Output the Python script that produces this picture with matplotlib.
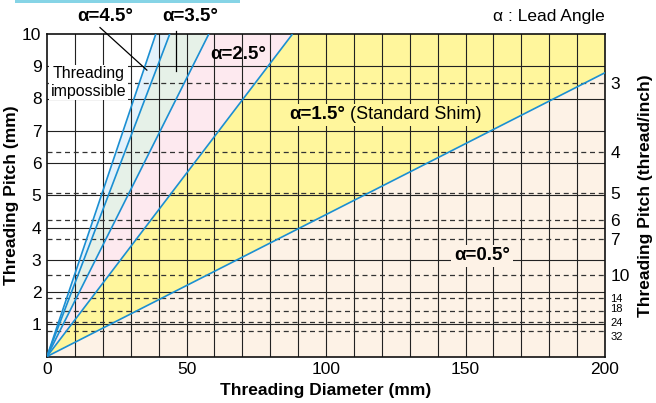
import numpy as np
import matplotlib
matplotlib.use("Agg")
from matplotlib import pyplot as plt
from matplotlib.patches import Rectangle
import matplotlib.transforms as mtransforms

plt.rcParams['font.family'] = ['Liberation Sans', 'DejaVu Sans']

# boundary lines: end point of each line drawn from the origin (diameter mm, pitch mm)
line_d = [39, 44, 58, 88, 200]
line_p = [10, 10, 10, 10, 8.8]
# region colours, from top-left (threading impossible) to bottom-right
region_colors = ['white', '#e4f2fb', '#e6f1e8', '#fde9ef', '#fff69c', '#fdf2e6']

tpi = [3, 4, 5, 6, 7, 10, 14, 18, 24, 32]
tpi_pitch = [25.4 / t for t in tpi]

blue = '#1b8fd2'

fig = plt.figure(figsize=(6.56, 4.03), dpi=100)
ax = fig.add_axes([47/656, 1-356.5/403, (605-47)/656, (356.5-34)/403])
ax.set_xlim(0, 200)
ax.set_ylim(0, 10)

# background region (below lowest line)
ax.add_patch(Rectangle((0, 0), 200, 10, color=region_colors[-1], zorder=0))
# fill regions above each line, from the shallowest to the steepest
for i in range(len(line_d) - 1, -1, -1):
    d, p = line_d[i], line_p[i]
    if p < 10:
        xs = [0, d, 200, 0]
        ys = [0, p, 10, 10]
    else:
        xs = [0, d, 0]
        ys = [0, p, 10]
    ax.fill(xs, ys, color=region_colors[i], lw=0, zorder=0.5)

# grid
for x in range(10, 200, 10):
    ax.axvline(x, color='#222222', lw=0.8, zorder=1)
for y in range(1, 10):
    ax.axhline(y, color='#222222', lw=0.8, zorder=1)
for p in tpi_pitch:
    ax.axhline(p, color='#333333', lw=0.9, ls=(0, (4, 3)), zorder=1.2)

# lead-angle lines
for d, p in zip(line_d, line_p):
    ax.plot([0, d], [0, p], color=blue, lw=1.2, zorder=3, solid_capstyle='butt')

for s in ax.spines.values():
    s.set_linewidth(1.2)
    s.set_color('#111111')

ax.set_xticks([0, 50, 100, 150, 200])
ax.set_yticks(range(1, 11))
ax.tick_params(length=0, labelsize=12.5, pad=4)
ax.set_xlabel('Threading Diameter (mm)', fontsize=12.5, fontweight='bold', labelpad=4)
ax.set_ylabel('Threading Pitch (mm)', fontsize=12.5, fontweight='bold', labelpad=2)

ax2 = ax.twinx()
ax2.set_ylim(0, 10)
ax2.set_yticks(tpi_pitch)
ax2.set_yticklabels([str(t) for t in tpi])
ax2.tick_params(length=0, labelsize=12.5, pad=4)
nudge = {18: 2, 24: 0, 32: -4}
for lab, t in zip(ax2.get_yticklabels(), tpi):
    if t >= 14:
        lab.set_fontsize(8)
    if t in nudge:
        lab.set_transform(lab.get_transform() +
                          mtransforms.ScaledTranslation(0, nudge[t]/72, fig.dpi_scale_trans))
for s in ax2.spines.values():
    s.set_visible(False)
ax2.set_ylabel('Threading Pitch (thread/inch)', fontsize=12.5, fontweight='bold', labelpad=6)

# labels
bold = dict(fontsize=13.5, fontweight='bold', ha='center', va='center')
ax.text(20.8, 10.55, 'α=4.5°', clip_on=False, **bold)
ax.text(51.3, 10.55, 'α=3.5°', clip_on=False, **bold)
ax.plot([19, 35.8], [10.2, 8.88], color='black', lw=0.9, clip_on=False, zorder=4)
ax.plot([46.2, 46.2], [10.1, 8.85], color='black', lw=0.9, clip_on=False, zorder=4)
ax.text(68.5, 9.35, 'α=2.5°', zorder=4, **bold)
ax.text(97, 7.49, 'α=1.5°', zorder=4,
        bbox=dict(boxstyle='square,pad=0.12', fc=region_colors[4], ec='none'), **bold)
ax.text(108.5, 7.49, '(Standard Shim)', fontsize=13, ha='left', va='center', zorder=4,
        bbox=dict(boxstyle='square,pad=0.12', fc=region_colors[4], ec='none'))
ax.text(156, 3.12, 'α=0.5°', zorder=4,
        bbox=dict(boxstyle='square,pad=0.15', fc=region_colors[5], ec='none'), **bold)
ax.text(14.9, 8.5, 'Threading\nimpossible', fontsize=11.5, ha='center', va='center',
        linespacing=1.2, zorder=4,
        bbox=dict(boxstyle='square,pad=0.1', fc='white', ec='none'))
ax.text(200, 10.55, 'α : Lead Angle', fontsize=12.5, ha='right', va='center', clip_on=False)

# header bar remnant at top
fig.patches.append(Rectangle((15/656, 1-3/403), 225/656, 3/403, transform=fig.transFigure,
                             color='#86d4e6', lw=0))

fig.savefig('out.png', dpi=100)
